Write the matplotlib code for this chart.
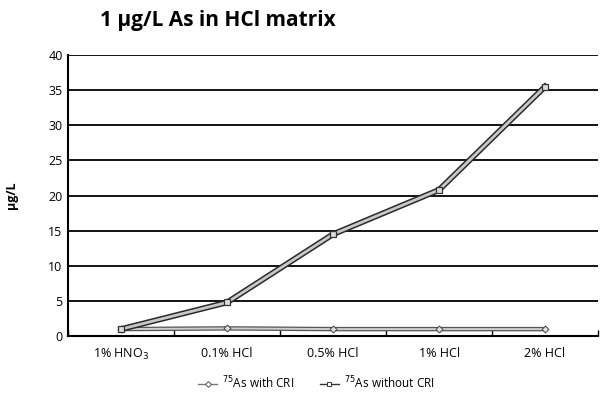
import numpy as np
from matplotlib import pyplot as plt
import matplotlib.patheffects as pe
from matplotlib.lines import Line2D

# data
categories = ['1% HNO$_3$', '0.1% HCl', '0.5% HCl', '1% HCl', '2% HCl']
with_cri = [1.0, 1.1, 1.0, 1.0, 1.0]
without_cri = [1.0, 4.8, 14.5, 20.8, 35.5]
yticks = [0, 5, 10, 15, 20, 25, 30, 35, 40]

plt.rcParams['font.family'] = ['Open Sans', 'DejaVu Sans']

fig = plt.figure(figsize=(6.14, 4.04), dpi=100)
ax = fig.add_axes([0.111, 0.168, 0.863, 0.696])

xs = np.arange(len(categories))

# horizontal grid lines
for y in yticks[1:]:
    ax.axhline(y, color='black', lw=1.3, zorder=1)

# lines drawn as light core with dark outline, markers on top without outline
ax.plot(xs, with_cri, color='#cfcfcf', lw=1.4, zorder=3,
        path_effects=[pe.Stroke(linewidth=3.2, foreground='#555555'), pe.Normal()])
ax.plot(xs, with_cri, ls='none', marker='D', ms=3.5, mfc='#e0e0e0',
        mec='#444444', mew=0.7, zorder=3.5)
ax.plot(xs, without_cri, color='#c8c8c8', lw=2, zorder=4,
        path_effects=[pe.Stroke(linewidth=4.2, foreground='#2a2a2a'), pe.Normal()])
ax.plot(xs, without_cri, ls='none', marker='s', ms=4, mfc='#dddddd',
        mec='#333333', mew=0.9, zorder=4.5)

ax.set_xlim(-0.5, len(categories) - 0.5)
ax.set_ylim(0, 40)
ax.set_yticks(yticks)
ax.set_yticklabels([str(v) for v in yticks], fontsize=9)
ax.set_xticks(xs)
ax.set_xticklabels(categories, fontsize=9)
ax.tick_params(axis='x', length=0, pad=8)
ax.tick_params(axis='y', length=0, pad=4)
ax.set_xticks(np.arange(-0.5, len(categories)), minor=True)
ax.tick_params(axis='x', which='minor', length=4, direction='in', width=1)

for s in ['top', 'right']:
    ax.spines[s].set_visible(False)
ax.spines['left'].set_linewidth(1.5)
ax.spines['bottom'].set_linewidth(1.5)

ax.set_ylabel('µg/L', fontsize=9, fontweight='bold', labelpad=22)
fig.text(0.163, 0.95, '1 µg/L As in HCl matrix', fontsize=15,
         fontweight='bold', ha='left', va='center')

h1 = Line2D([], [], color='#777777', lw=1, marker='D', ms=3,
            mfc='white', mec='#555555', mew=0.7)
h2 = Line2D([], [], color='#333333', lw=1, marker='s', ms=3,
            mfc='white', mec='#333333', mew=0.7)
fig.legend([h1, h2], ['$^{75}$As with CRI', '$^{75}$As without CRI'],
           loc='center', bbox_to_anchor=(0.515, 0.052), ncol=2, frameon=False,
           fontsize=8.5, handlelength=1.6, handletextpad=0.4,
           columnspacing=2.2)

plt.savefig('out.png', dpi=100)
